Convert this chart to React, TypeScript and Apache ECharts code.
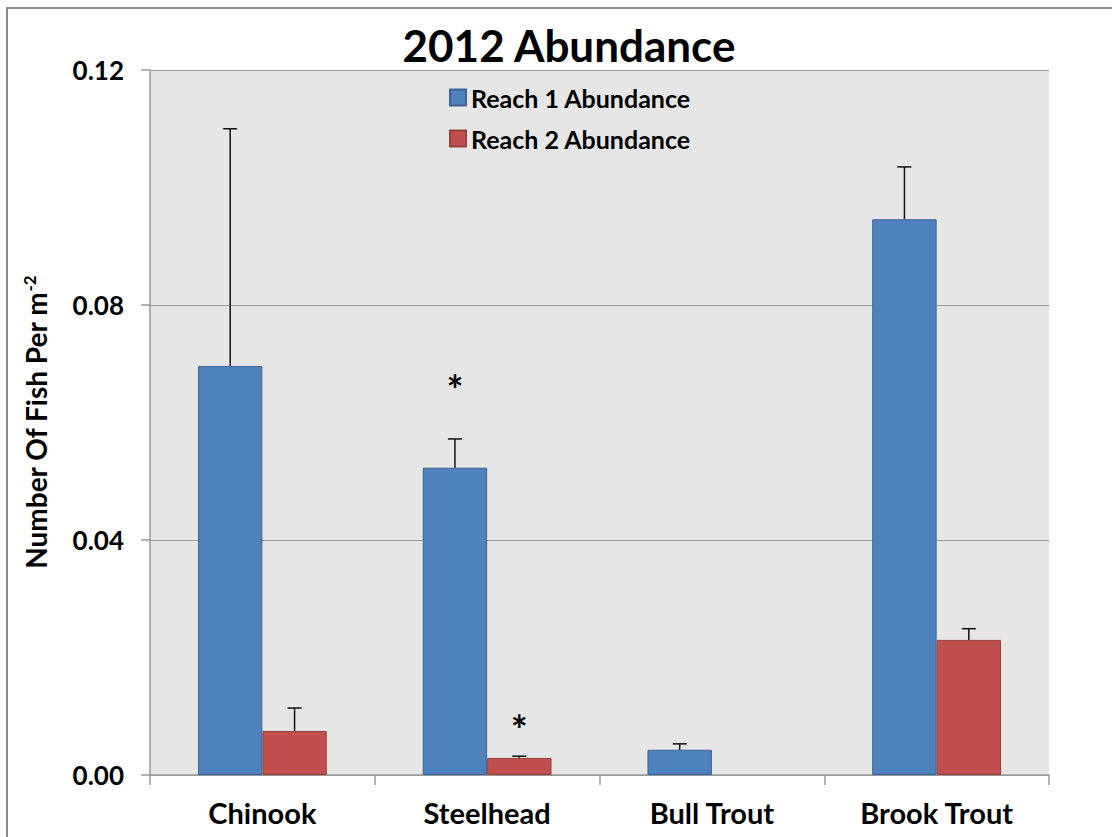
import React, { useEffect, useRef } from "react";
import * as echarts from "echarts";

const categories = ["Chinook", "Steelhead", "Bull Trout", "Brook Trout"];
const seriesNames = ["Reach 1 Abundance", "Reach 2 Abundance"];
const reach1 = [0.0696, 0.0523, 0.0043, 0.0946];
const reach1Upper = [0.11, 0.0572, 0.0053, 0.1035];
const reach2 = [0.0075, 0.0029, 0, 0.023];
const reach2Upper = [0.0114, 0.0032, null, 0.0249];
// [category index, series index, value position]
const asterisks = [
  [1, 0, 0.0669],
  [1, 1, 0.009],
];
const yTicks = [0, 0.04, 0.08, 0.12];

const FONT = "Lato, 'Open Sans', sans-serif";
const CAT_GAP = 0.427;

export default function App() {
  const ref = useRef<HTMLDivElement>(null);
  useEffect(() => {
    const chart = echarts.init(ref.current!, null, { renderer: "svg" });

    const errData: any[] = [];
    reach1.forEach((v, i) => {
      if (reach1Upper[i] != null) errData.push([i, v, reach1Upper[i], 0]);
    });
    reach2.forEach((v, i) => {
      if (reach2Upper[i] != null) errData.push([i, v, reach2Upper[i], 1]);
    });

    const barOffset = (api: any, s: number) => {
      const cw = api.size([1, 0])[0];
      const bw = ((1 - CAT_GAP) * cw) / 2;
      return s === 0 ? -bw / 2 : bw / 2;
    };

    const barItems = (vals: number[]) =>
      vals.map((v) => (v === 0 ? { value: v, itemStyle: { borderWidth: 0, opacity: 0 } } : v));

    chart.setOption({
      animation: false,
      backgroundColor: "#ffffff",
      title: {
        text: "2012 Abundance",
        left: 564,
        textAlign: "center",
        top: 18,
        textStyle: { fontFamily: FONT, fontSize: 44, fontWeight: "bold", color: "#000" },
      },
      legend: {
        orient: "vertical",
        left: 444,
        top: 80,
        icon: "rect",
        itemWidth: 16,
        itemHeight: 16,
        itemGap: 16,
        data: seriesNames,
        textStyle: { fontFamily: FONT, fontSize: 25, fontWeight: "bold", color: "#000" },
      },
      graphic: [
        {
          type: "rect",
          shape: { x: 7, y: 8, width: 1300, height: 1000 },
          style: { fill: "none", stroke: "#8c8c8c", lineWidth: 2 },
          silent: true,
          z: -1,
        },
      ],
      grid: {
        left: 150,
        right: 63,
        top: 70,
        bottom: 62,
        show: true,
        backgroundColor: "#e6e6e6",
        borderWidth: 0,
      },
      xAxis: {
        type: "category",
        data: categories,
        boundaryGap: true,
        axisLine: { lineStyle: { color: "#9a9a9a", width: 1.5 } },
        axisTick: { show: true, alignWithLabel: false, length: 10, lineStyle: { color: "#9a9a9a", width: 1.5 } },
        axisLabel: {
          fontFamily: FONT,
          fontSize: 29,
          fontWeight: "bold",
          color: "#000",
          margin: 23,
        },
      },
      yAxis: {
        type: "value",
        min: 0,
        max: 0.12,
        interval: 0.04,
        name: "{a|Number Of Fish Per m}{s|-2}",
        nameLocation: "middle",
        nameGap: 100,
        nameRotate: 90,
        nameTextStyle: {
          rich: {
            a: { fontFamily: FONT, fontSize: 28, fontWeight: "bold", color: "#000" },
            s: { fontFamily: FONT, fontSize: 17, fontWeight: "bold", color: "#000", verticalAlign: "top", padding: [0, 0, 12, 0] },
          },
        },
        axisLine: { show: true, lineStyle: { color: "#9a9a9a", width: 1.5 } },
        axisTick: { show: true, length: 9, lineStyle: { color: "#9a9a9a", width: 1.5 } },
        splitLine: { show: true, lineStyle: { color: "#9a9a9a", width: 1.2 } },
        axisLabel: {
          fontFamily: FONT,
          fontSize: 26,
          fontWeight: "bold",
          color: "#000",
          margin: 26,
          formatter: (v: number) => (yTicks.some((t) => Math.abs(t - v) < 1e-9) ? v.toFixed(2) : ""),
        },
      },
      series: [
        {
          name: seriesNames[0],
          type: "bar",
          data: barItems(reach1),
          barGap: "0%",
          barCategoryGap: CAT_GAP * 100 + "%",
          itemStyle: { color: "#4f81bd", borderColor: "#3a6496", borderWidth: 1 },
        },
        {
          name: seriesNames[1],
          type: "bar",
          data: barItems(reach2),
          barGap: "0%",
          barCategoryGap: CAT_GAP * 100 + "%",
          itemStyle: { color: "#c0504d", borderColor: "#97403d", borderWidth: 1 },
        },
        {
          type: "custom",
          silent: true,
          z: 5,
          data: errData,
          renderItem: (params: any, api: any) => {
            const c = api.value(0);
            const s = api.value(3);
            const lo = api.coord([c, api.value(1)]);
            const hi = api.coord([c, api.value(2)]);
            const x = lo[0] + barOffset(api, s);
            const cap = 7;
            const st = { stroke: "#111", lineWidth: 1.5 };
            return {
              type: "group",
              children: [
                { type: "line", shape: { x1: x, y1: lo[1], x2: x, y2: hi[1] }, style: st },
                { type: "line", shape: { x1: x - cap, y1: hi[1], x2: x + cap, y2: hi[1] }, style: st },
              ],
            };
          },
        },
        {
          type: "custom",
          silent: true,
          z: 6,
          data: asterisks,
          renderItem: (params: any, api: any) => {
            const c = api.value(0);
            const s = api.value(1);
            const p = api.coord([c, api.value(2)]);
            return {
              type: "text",
              x: p[0] + barOffset(api, s),
              y: p[1] + 8,
              style: {
                text: "*",
                fontFamily: FONT,
                fontSize: 40,
                fontWeight: "bold",
                fill: "#000",
                align: "center",
                verticalAlign: "middle",
              },
            };
          },
        },
      ],
    });
    return () => chart.dispose();
  }, []);
  return (
    <div
      ref={ref}
      style={{ position: "fixed", left: 0, top: 0, width: 1112, height: 837 }}
    />
  );
}
